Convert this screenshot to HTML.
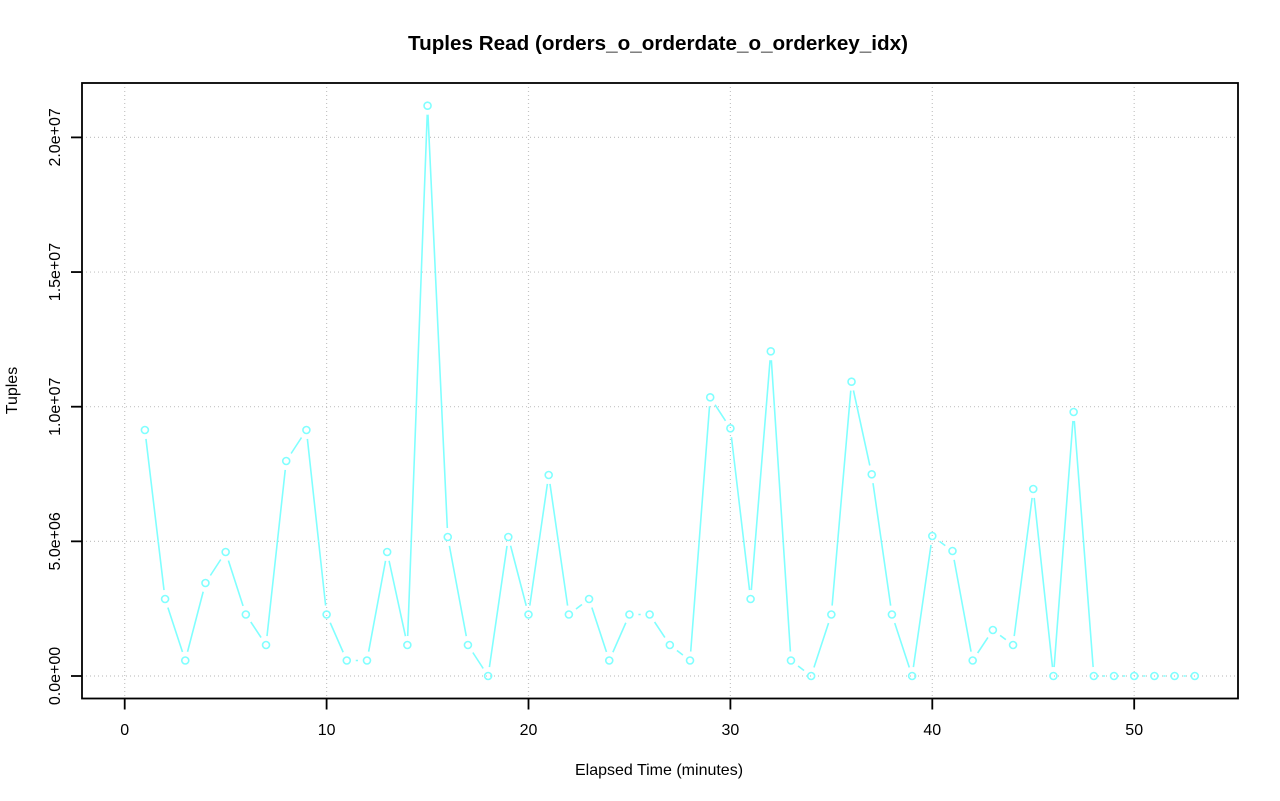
<!DOCTYPE html>
<html>
<head>
<meta charset="utf-8">
<style>
  html, body { margin: 0; padding: 0; background: #ffffff; }
  svg { display: block; }
  text { font-family: "Liberation Sans", Arial, sans-serif; fill: #000; }
</style>
</head>
<body>
<svg width="1280" height="801" viewBox="0 0 1280 801" xmlns="http://www.w3.org/2000/svg">
  <rect x="0" y="0" width="1280" height="801" fill="#ffffff"/>

  <g stroke="#c4c4c4" stroke-width="1.2" stroke-dasharray="1,3" fill="none">
    <line x1="124.7" y1="83" x2="124.7" y2="698"/>
    <line x1="326.6" y1="83" x2="326.6" y2="698"/>
    <line x1="528.5" y1="83" x2="528.5" y2="698"/>
    <line x1="730.4" y1="83" x2="730.4" y2="698"/>
    <line x1="932.3" y1="83" x2="932.3" y2="698"/>
    <line x1="1134.2" y1="83" x2="1134.2" y2="698"/>
    <line x1="82" y1="676" x2="1238" y2="676"/>
    <line x1="82" y1="541.35" x2="1238" y2="541.35"/>
    <line x1="82" y1="406.7" x2="1238" y2="406.7"/>
    <line x1="82" y1="272.05" x2="1238" y2="272.05"/>
    <line x1="82" y1="137.4" x2="1238" y2="137.4"/>
  </g>

  <defs>
    <mask id="gapmask" maskUnits="userSpaceOnUse" x="0" y="0" width="1280" height="801">
      <rect x="0" y="0" width="1280" height="801" fill="#fff"/>
      <g fill="#000">
        <circle cx="144.89" cy="430" r="9"/>
        <circle cx="165.08" cy="599" r="9"/>
        <circle cx="185.27" cy="660.5" r="9"/>
        <circle cx="205.46" cy="583" r="9"/>
        <circle cx="225.65" cy="552" r="9"/>
        <circle cx="245.84" cy="614.5" r="9"/>
        <circle cx="266.03" cy="645" r="9"/>
        <circle cx="286.22" cy="461" r="9"/>
        <circle cx="306.41" cy="430" r="9"/>
        <circle cx="326.6" cy="614.5" r="9"/>
        <circle cx="346.79" cy="660.5" r="9"/>
        <circle cx="366.98" cy="660.5" r="9"/>
        <circle cx="387.17" cy="552" r="9"/>
        <circle cx="407.36" cy="645" r="9"/>
        <circle cx="427.55" cy="105.7" r="9"/>
        <circle cx="447.74" cy="537" r="9"/>
        <circle cx="467.93" cy="645" r="9"/>
        <circle cx="488.12" cy="676" r="9"/>
        <circle cx="508.31" cy="537" r="9"/>
        <circle cx="528.5" cy="614.5" r="9"/>
        <circle cx="548.69" cy="475" r="9"/>
        <circle cx="568.88" cy="614.5" r="9"/>
        <circle cx="589.07" cy="599" r="9"/>
        <circle cx="609.26" cy="660.5" r="9"/>
        <circle cx="629.45" cy="614.5" r="9"/>
        <circle cx="649.64" cy="614.5" r="9"/>
        <circle cx="669.83" cy="645" r="9"/>
        <circle cx="690.02" cy="660.5" r="9"/>
        <circle cx="710.21" cy="397.3" r="9"/>
        <circle cx="730.4" cy="428.3" r="9"/>
        <circle cx="750.59" cy="599" r="9"/>
        <circle cx="770.78" cy="351.3" r="9"/>
        <circle cx="790.97" cy="660.5" r="9"/>
        <circle cx="811.16" cy="676" r="9"/>
        <circle cx="831.35" cy="614.5" r="9"/>
        <circle cx="851.54" cy="381.7" r="9"/>
        <circle cx="871.73" cy="474.3" r="9"/>
        <circle cx="891.92" cy="614.5" r="9"/>
        <circle cx="912.11" cy="676" r="9"/>
        <circle cx="932.3" cy="536" r="9"/>
        <circle cx="952.49" cy="551" r="9"/>
        <circle cx="972.68" cy="660.5" r="9"/>
        <circle cx="992.87" cy="630" r="9"/>
        <circle cx="1013.06" cy="645" r="9"/>
        <circle cx="1033.25" cy="489" r="9"/>
        <circle cx="1053.44" cy="676" r="9"/>
        <circle cx="1073.63" cy="412" r="9"/>
        <circle cx="1093.82" cy="676" r="9"/>
        <circle cx="1114.01" cy="676" r="9"/>
        <circle cx="1134.2" cy="676" r="9"/>
        <circle cx="1154.39" cy="676" r="9"/>
        <circle cx="1174.58" cy="676" r="9"/>
        <circle cx="1194.77" cy="676" r="9"/>
      </g>
    </mask>
  </defs>

  <polyline mask="url(#gapmask)" fill="none" stroke="#80ffff" stroke-width="1.6" stroke-linejoin="round"
    points="144.89,430 165.08,599 185.27,660.5 205.46,583 225.65,552 245.84,614.5 266.03,645 286.22,461 306.41,430 326.6,614.5 346.79,660.5 366.98,660.5 387.17,552 407.36,645 427.55,105.7 447.74,537 467.93,645 488.12,676 508.31,537 528.5,614.5 548.69,475 568.88,614.5 589.07,599 609.26,660.5 629.45,614.5 649.64,614.5 669.83,645 690.02,660.5 710.21,397.3 730.4,428.3 750.59,599 770.78,351.3 790.97,660.5 811.16,676 831.35,614.5 851.54,381.7 871.73,474.3 891.92,614.5 912.11,676 932.3,536 952.49,551 972.68,660.5 992.87,630 1013.06,645 1033.25,489 1053.44,676 1073.63,412 1093.82,676 1114.01,676 1134.2,676 1154.39,676 1174.58,676 1194.77,676"/>

  <g fill="none" stroke="#80ffff" stroke-width="1.6">
    <circle cx="144.89" cy="430" r="3.5"/>
    <circle cx="165.08" cy="599" r="3.5"/>
    <circle cx="185.27" cy="660.5" r="3.5"/>
    <circle cx="205.46" cy="583" r="3.5"/>
    <circle cx="225.65" cy="552" r="3.5"/>
    <circle cx="245.84" cy="614.5" r="3.5"/>
    <circle cx="266.03" cy="645" r="3.5"/>
    <circle cx="286.22" cy="461" r="3.5"/>
    <circle cx="306.41" cy="430" r="3.5"/>
    <circle cx="326.6" cy="614.5" r="3.5"/>
    <circle cx="346.79" cy="660.5" r="3.5"/>
    <circle cx="366.98" cy="660.5" r="3.5"/>
    <circle cx="387.17" cy="552" r="3.5"/>
    <circle cx="407.36" cy="645" r="3.5"/>
    <circle cx="427.55" cy="105.7" r="3.5"/>
    <circle cx="447.74" cy="537" r="3.5"/>
    <circle cx="467.93" cy="645" r="3.5"/>
    <circle cx="488.12" cy="676" r="3.5"/>
    <circle cx="508.31" cy="537" r="3.5"/>
    <circle cx="528.5" cy="614.5" r="3.5"/>
    <circle cx="548.69" cy="475" r="3.5"/>
    <circle cx="568.88" cy="614.5" r="3.5"/>
    <circle cx="589.07" cy="599" r="3.5"/>
    <circle cx="609.26" cy="660.5" r="3.5"/>
    <circle cx="629.45" cy="614.5" r="3.5"/>
    <circle cx="649.64" cy="614.5" r="3.5"/>
    <circle cx="669.83" cy="645" r="3.5"/>
    <circle cx="690.02" cy="660.5" r="3.5"/>
    <circle cx="710.21" cy="397.3" r="3.5"/>
    <circle cx="730.4" cy="428.3" r="3.5"/>
    <circle cx="750.59" cy="599" r="3.5"/>
    <circle cx="770.78" cy="351.3" r="3.5"/>
    <circle cx="790.97" cy="660.5" r="3.5"/>
    <circle cx="811.16" cy="676" r="3.5"/>
    <circle cx="831.35" cy="614.5" r="3.5"/>
    <circle cx="851.54" cy="381.7" r="3.5"/>
    <circle cx="871.73" cy="474.3" r="3.5"/>
    <circle cx="891.92" cy="614.5" r="3.5"/>
    <circle cx="912.11" cy="676" r="3.5"/>
    <circle cx="932.3" cy="536" r="3.5"/>
    <circle cx="952.49" cy="551" r="3.5"/>
    <circle cx="972.68" cy="660.5" r="3.5"/>
    <circle cx="992.87" cy="630" r="3.5"/>
    <circle cx="1013.06" cy="645" r="3.5"/>
    <circle cx="1033.25" cy="489" r="3.5"/>
    <circle cx="1053.44" cy="676" r="3.5"/>
    <circle cx="1073.63" cy="412" r="3.5"/>
    <circle cx="1093.82" cy="676" r="3.5"/>
    <circle cx="1114.01" cy="676" r="3.5"/>
    <circle cx="1134.2" cy="676" r="3.5"/>
    <circle cx="1154.39" cy="676" r="3.5"/>
    <circle cx="1174.58" cy="676" r="3.5"/>
    <circle cx="1194.77" cy="676" r="3.5"/>
  </g>

  <rect x="82" y="83" width="1156" height="615.5" fill="none" stroke="#000" stroke-width="1.8"/>

  <g stroke="#000" stroke-width="1.8">
    <line x1="124.7" y1="698.5" x2="124.7" y2="709.5"/>
    <line x1="326.6" y1="698.5" x2="326.6" y2="709.5"/>
    <line x1="528.5" y1="698.5" x2="528.5" y2="709.5"/>
    <line x1="730.4" y1="698.5" x2="730.4" y2="709.5"/>
    <line x1="932.3" y1="698.5" x2="932.3" y2="709.5"/>
    <line x1="1134.2" y1="698.5" x2="1134.2" y2="709.5"/>
    <line x1="71" y1="676" x2="82" y2="676"/>
    <line x1="71" y1="541.35" x2="82" y2="541.35"/>
    <line x1="71" y1="406.7" x2="82" y2="406.7"/>
    <line x1="71" y1="272.05" x2="82" y2="272.05"/>
    <line x1="71" y1="137.4" x2="82" y2="137.4"/>
  </g>

  <g font-size="16" text-anchor="middle">
    <text x="124.7" y="735">0</text>
    <text x="326.6" y="735">10</text>
    <text x="528.5" y="735">20</text>
    <text x="730.4" y="735">30</text>
    <text x="932.3" y="735">40</text>
    <text x="1134.2" y="735">50</text>
  </g>

  <g font-size="16" text-anchor="middle">
    <text transform="translate(60,676) rotate(-90)">0.0e+00</text>
    <text transform="translate(60,541.35) rotate(-90)">5.0e+06</text>
    <text transform="translate(60,406.7) rotate(-90)">1.0e+07</text>
    <text transform="translate(60,272.05) rotate(-90)">1.5e+07</text>
    <text transform="translate(60,137.4) rotate(-90)">2.0e+07</text>
  </g>

  <text x="658" y="50" font-size="20" font-weight="bold" text-anchor="middle" textLength="500" lengthAdjust="spacingAndGlyphs">Tuples Read (orders_o_orderdate_o_orderkey_idx)</text>
  <text x="659" y="775" font-size="16" text-anchor="middle">Elapsed Time (minutes)</text>
  <text transform="translate(17,390.5) rotate(-90)" font-size="16" text-anchor="middle">Tuples</text>
</svg>
</body>
</html>
